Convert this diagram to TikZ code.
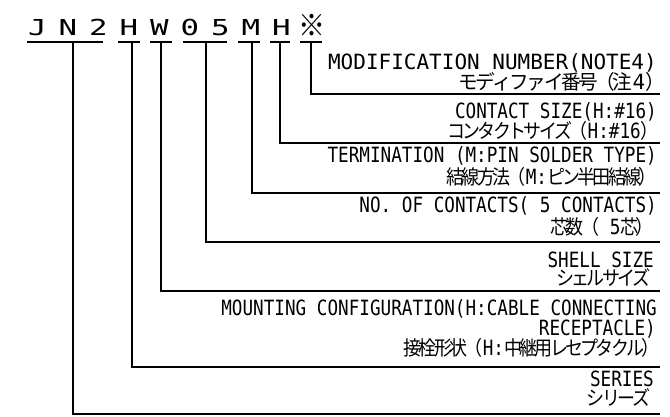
\documentclass[tikz,border=0pt]{standalone}
\usepackage{fontspec}
\newfontfamily\lbl{DejaVu Sans Mono}[FakeStretch=0.84]
\newfontfamily\lblwide{DejaVu Sans Mono}[FakeStretch=1.0]
\newfontfamily\codefont{DejaVu Sans Mono}[FakeStretch=1.4]
\newfontfamily\jp{Noto Sans CJK JP}[FakeStretch=0.9, LetterSpace=-13.5, Kerning=Off]
\newfontfamily\jpwide{Noto Sans CJK JP}[FakeStretch=0.98, LetterSpace=-12, Kerning=Off]
\newcommand\ja[1]{{\fontsize{20}{22}\jp #1}}
\newcommand\jaw[1]{{\fontsize{20}{22}\jpwide #1}}

\tikzset{
  lead/.style={line width=1.2pt},
  lbl/.style={anchor=base east, inner sep=0pt, text height=15pt, text depth=0pt,
    font=\fontsize{21}{24}\lbl},
  lblw/.style={lbl, font=\fontsize{21}{24}\lblwide},
  jlbl/.style={lbl, text depth=1pt},
  jlblw/.style={lblw, text depth=1pt},
  codech/.style={anchor=base, inner sep=0pt, font=\fontsize{22}{24}\codefont}
}

\begin{document}
\begin{tikzpicture}[x=1pt, y=-1pt]
\useasboundingbox (0,0) rectangle (670,416);

% part number
\foreach \ch [count=\i from 0] in {J,N,2,H,W,0,5,M,H}
  \node[codech] (code\i) at (37.5+30.5*\i,35) {\ch};
\node[codech, font=\fontsize{30}{30}\jp] (code9) at (37.5+30.5*9,36) {※};

% underlines
\foreach \a/\b in {27/103, 118/140, 150/172, 183/227, 238/260, 270/290, 300/322}
  \draw[lead] (\a,42) -- (\b,42);

% leaders
\foreach \x/\y in {311/94, 280/143, 252/193, 206/242, 161/291, 132/367, 73/414}
  \draw[lead] (\x,42) |- (660,\y);

% labels
\node[lblw] (modEn) at (657,69) {MODIFICATION NUMBER(NOTE4)};
\node[jlblw] (modJa) at (665,89) {\jaw{モディファイ番号（注}4\jaw{）}};

\node[lbl] (sizeEn) at (657,118) {CONTACT SIZE(H:\#16)};
\node[jlbl] (sizeJa) at (659,138) {\ja{コンタクトサイズ（}H:\#16\ja{）}};

\node[lbl] (termEn) at (657,162) {TERMINATION (M:PIN SOLDER TYPE)};
\node[jlbl] (termJa) at (657,184) {\ja{結線方法（}M:\ja{ピン半田結線）}};

\node[lbl] (noEn) at (657,212) {NO. OF CONTACTS( 5 CONTACTS)};
\node[jlbl] (noJa) at (654,234) {\ja{芯数（} 5\ja{芯）}};

\node[lbl] (shellEn) at (654,267) {SHELL SIZE};
\node[jlbl] (shellJa) at (651,285.5) {\ja{シェルサイズ}};

\node[lbl] (mountEn) at (657,315) {MOUNTING CONFIGURATION(H:CABLE CONNECTING};
\node[lbl] (mountEnB) at (656,335) {RECEPTACLE)};
\node[jlbl] (mountJa) at (660,355) {\ja{接栓形状（}H:\ja{中継用レセプタクル）}};

\node[lbl] (serEn) at (654,386) {SERIES};
\node[jlbl] (serJa) at (651,405.5) {\ja{シリーズ}};

\end{tikzpicture}
\end{document}
